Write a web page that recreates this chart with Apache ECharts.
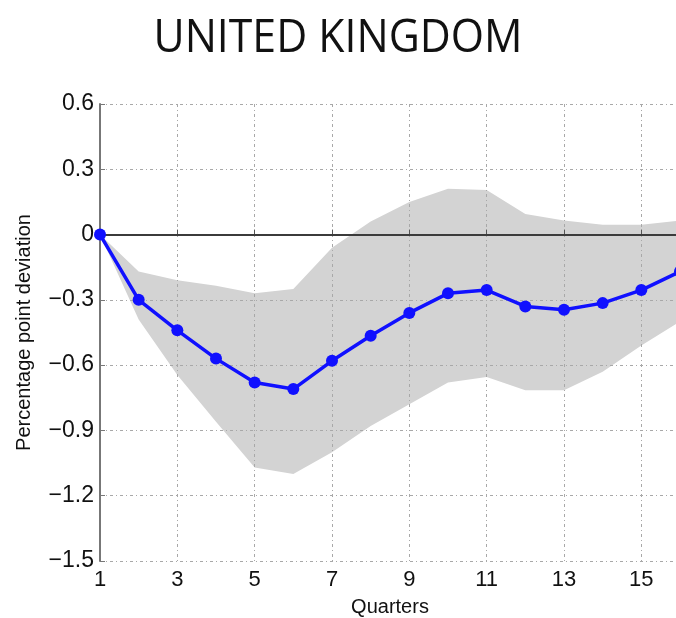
<!DOCTYPE html>
<html>
<head>
<meta charset="utf-8">
<title>United Kingdom</title>
<script src="https://cdn.jsdelivr.net/npm/echarts@6.0.0/dist/echarts.min.js"></script>
<style>
  html, body { margin: 0; padding: 0; background: #fff; }
  #chart { width: 676px; height: 618px; }
</style>
</head>
<body>
<div id="chart"></div>
<script>
// quarters after the shock
const quarters = ['1','2','3','4','5','6','7','8','9','10','11','12','13','14','15','16'];
// median response (percentage points)
const response = [0, -0.30, -0.44, -0.57, -0.68, -0.71, -0.58, -0.465, -0.36, -0.27, -0.255, -0.33, -0.345, -0.315, -0.255, -0.17];
// confidence band
const upper = [0, -0.17, -0.21, -0.235, -0.27, -0.25, -0.06, 0.06, 0.15, 0.21, 0.205, 0.095, 0.065, 0.045, 0.045, 0.065];
const lower = [0, -0.39, -0.645, -0.86, -1.07, -1.10, -1.00, -0.88, -0.78, -0.68, -0.655, -0.715, -0.715, -0.63, -0.51, -0.40];

const bandWidth = upper.map((u, i) => +(u - lower[i]).toFixed(4));

const fmtY = v => {
  const r = Math.round(v * 10) / 10;
  return String(r).replace('-', '\u2212');
};

const gridLine = { color: '#a8a8a8', type: [3, 3, 1, 3] };

const chart = echarts.init(document.getElementById('chart'));
chart.setOption({
  animation: false,
  textStyle: { fontFamily: 'Liberation Sans' },
  graphic: [{
    type: 'text',
    left: 'center',
    top: 16,
    style: {
      text: 'UNITED KINGDOM',
      font: '400 46px "Open Sans"',
      fill: '#111'
    },
    scaleX: 0.93
  }],
  // plot runs a little past the right edge, as in the source image
  grid: { left: 100, width: 580, top: 104, height: 457, outerBoundsMode: 'none', containLabel: false },
  xAxis: {
    type: 'category',
    data: quarters,
    boundaryGap: false,
    name: 'Quarters',
    nameLocation: 'middle',
    nameGap: 36,
    nameTextStyle: { fontSize: 20, color: '#111' },
    axisLine: { lineStyle: { color: '#555', width: 2 } },
    axisTick: { inside: true, length: 5, interval: 1, lineStyle: { color: '#555' } },
    axisLabel: { interval: 1, fontSize: 22, color: '#111', margin: 8 },
    splitLine: { show: true, interval: 1, lineStyle: gridLine }
  },
  yAxis: {
    type: 'value',
    min: -1.5,
    max: 0.6,
    interval: 0.3,
    name: 'Percentage point deviation',
    nameLocation: 'middle',
    nameGap: 66,
    nameTextStyle: { fontSize: 20, color: '#111' },
    axisLine: { show: true, lineStyle: { color: '#777', width: 2 } },
    axisTick: { show: true, inside: true, length: 5, lineStyle: { color: '#777' } },
    axisLabel: { fontSize: 23, color: '#111', margin: 6, formatter: fmtY },
    splitLine: { show: true, lineStyle: gridLine }
  },
  series: [
    {
      name: 'lower',
      type: 'line',
      data: lower,
      stack: 'band',
      stackStrategy: 'all',
      symbol: 'none',
      lineStyle: { opacity: 0 },
      silent: true,
      z: -1
    },
    {
      name: 'band',
      type: 'line',
      data: bandWidth,
      stack: 'band',
      stackStrategy: 'all',
      symbol: 'none',
      lineStyle: { opacity: 0 },
      areaStyle: { color: '#d3d3d3', opacity: 1 },
      silent: true,
      z: -1
    },
    {
      name: 'response',
      type: 'line',
      data: response,
      symbol: 'circle',
      symbolSize: 12,
      itemStyle: { color: '#1010ff' },
      lineStyle: { color: '#1010ff', width: 3.5 },
      markLine: {
        silent: true,
        symbol: 'none',
        label: { show: false },
        lineStyle: { color: '#333', width: 1.5, type: 'solid' },
        data: [{ yAxis: 0 }]
      },
      z: 5
    }
  ]
});
</script>
</body>
</html>
